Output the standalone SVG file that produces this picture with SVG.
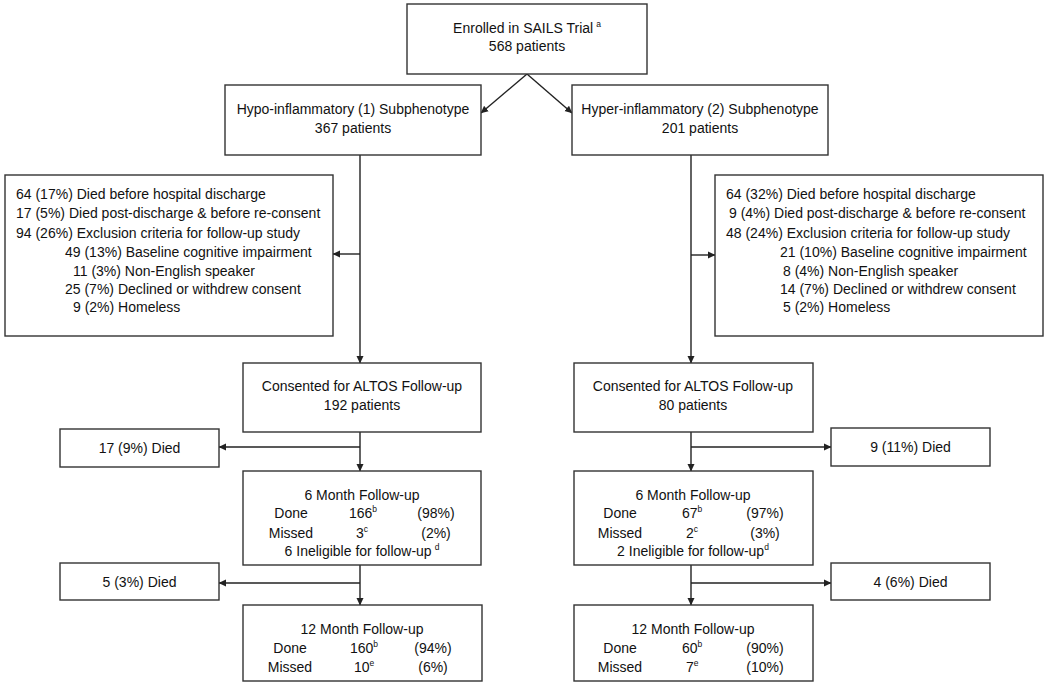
<svg xmlns="http://www.w3.org/2000/svg" width="1050" height="687" viewBox="0 0 1050 687">
<defs>
<marker id="arr" markerWidth="8" markerHeight="8" refX="7" refY="4" orient="auto" markerUnits="userSpaceOnUse">
<path d="M0,0.5 L7.5,4 L0,7.5 Z" fill="#222"/>
</marker>
<style>
rect{fill:#fff;stroke:#333;stroke-width:1.4}
text{font-family:"Liberation Sans",Arial,sans-serif;font-size:14px;fill:#111}
.c{text-anchor:middle}
.sup{font-size:8.5px}
#connectors line{stroke:#222;stroke-width:1.4;marker-end:url(#arr)}
#connectors .n{marker-end:none}
</style>
</defs>
<rect x="0" y="0" width="1050" height="687" style="fill:#fff;stroke:none"/>
<g id="connectors">
<line x1="527" y1="74" x2="481" y2="113"/>
<line x1="527" y1="74" x2="572" y2="113"/>
<line x1="360" y1="155" x2="360" y2="363"/>
<line x1="360" y1="254" x2="333" y2="254"/>
<line x1="691" y1="155" x2="691" y2="363"/>
<line x1="691" y1="255" x2="715" y2="255"/>
<line x1="360" y1="432" x2="360" y2="471"/>
<line x1="360" y1="447" x2="219" y2="447"/>
<line x1="691" y1="432" x2="691" y2="471"/>
<line x1="691" y1="447" x2="831" y2="447"/>
<line x1="360" y1="565" x2="360" y2="605"/>
<line x1="360" y1="583" x2="219" y2="583"/>
<line x1="691" y1="565" x2="691" y2="605"/>
<line x1="691" y1="583" x2="831" y2="583"/>
</g>
<g id="enrolled">
<rect x="407" y="4" width="240" height="70"/>
<text class="c" x="527" y="33">Enrolled in SAILS Trial<tspan class="sup" dx="3" dy="-6">a</tspan></text>
<text class="c" x="527" y="51">568 patients</text>
</g>
<g id="hypo">
<rect x="225" y="85" width="256" height="70"/>
<text class="c" x="353" y="114">Hypo-inflammatory (1) Subphenotype</text>
<text class="c" x="353" y="133">367 patients</text>
</g>
<g id="hyper">
<rect x="572" y="85" width="256" height="70"/>
<text class="c" x="700" y="114">Hyper-inflammatory (2) Subphenotype</text>
<text class="c" x="700" y="133">201 patients</text>
</g>
<g id="excl-left">
<rect x="5" y="175" width="328" height="161"/>
<text x="16" y="199">64 (17%) Died before hospital discharge</text>
<text x="16" y="218">17 (5%) Died post-discharge &amp; before re-consent</text>
<text x="16" y="238">94 (26%) Exclusion criteria for follow-up study</text>
<text x="65" y="257">49 (13%) Baseline cognitive impairment</text>
<text x="73" y="276">11 (3%) Non-English speaker</text>
<text x="65" y="294">25 (7%) Declined or withdrew consent</text>
<text x="73" y="312">9 (2%) Homeless</text>
</g>
<g id="excl-right">
<rect x="715" y="175" width="328" height="161"/>
<text x="726" y="199">64 (32%) Died before hospital discharge</text>
<text x="729" y="218">9 (4%) Died post-discharge &amp; before re-consent</text>
<text x="726" y="238">48 (24%) Exclusion criteria for follow-up study</text>
<text x="780" y="257">21 (10%) Baseline cognitive impairment</text>
<text x="783" y="276">8 (4%) Non-English speaker</text>
<text x="780" y="294">14 (7%) Declined or withdrew consent</text>
<text x="783" y="312">5 (2%) Homeless</text>
</g>
<g id="consent-left">
<rect x="243" y="363" width="238" height="69"/>
<text class="c" x="362" y="391">Consented for ALTOS Follow-up</text>
<text class="c" x="362" y="410">192 patients</text>
</g>
<g id="consent-right">
<rect x="574" y="363" width="239" height="69"/>
<text class="c" x="693" y="391">Consented for ALTOS Follow-up</text>
<text class="c" x="693" y="410">80 patients</text>
</g>
<g id="died1-left">
<rect x="60" y="429" width="159" height="38"/>
<text class="c" x="139.5" y="453">17 (9%) Died</text>
</g>
<g id="died1-right">
<rect x="831" y="428" width="159" height="38"/>
<text class="c" x="910.5" y="452">9 (11%) Died</text>
</g>
<g id="m6-left">
<rect x="243" y="471" width="238" height="94"/>
<text class="c" x="362" y="500">6 Month Follow-up</text>
<text class="c" x="291" y="518">Done</text>
<text x="349" y="518">166<tspan class="sup" dy="-6">b</tspan></text>
<text class="c" x="436" y="518">(98%)</text>
<text class="c" x="291" y="538">Missed</text>
<text x="356" y="538">3<tspan class="sup" dy="-6">c</tspan></text>
<text class="c" x="436" y="538">(2%)</text>
<text class="c" x="362" y="556">6 Ineligible for follow-up<tspan class="sup" dx="3" dy="-6">d</tspan></text>
</g>
<g id="m6-right">
<rect x="574" y="471" width="239" height="94"/>
<text class="c" x="693" y="500">6 Month Follow-up</text>
<text class="c" x="620" y="518">Done</text>
<text x="682" y="518">67<tspan class="sup" dy="-6">b</tspan></text>
<text class="c" x="765" y="518">(97%)</text>
<text class="c" x="620" y="538">Missed</text>
<text x="686" y="538">2<tspan class="sup" dy="-6">c</tspan></text>
<text class="c" x="765" y="538">(3%)</text>
<text class="c" x="693" y="556">2 Ineligible for follow-up<tspan class="sup" dy="-6">d</tspan></text>
</g>
<g id="died2-left">
<rect x="60" y="563" width="159" height="37"/>
<text class="c" x="139.5" y="587">5 (3%) Died</text>
</g>
<g id="died2-right">
<rect x="831" y="563" width="159" height="37"/>
<text class="c" x="910.5" y="587">4 (6%) Died</text>
</g>
<g id="m12-left">
<rect x="243" y="605" width="239" height="76"/>
<text class="c" x="362" y="634">12 Month Follow-up</text>
<text class="c" x="290" y="653">Done</text>
<text x="350" y="653">160<tspan class="sup" dy="-6">b</tspan></text>
<text class="c" x="433" y="653">(94%)</text>
<text class="c" x="290" y="672">Missed</text>
<text x="354" y="672">10<tspan class="sup" dy="-6">e</tspan></text>
<text class="c" x="433" y="672">(6%)</text>
</g>
<g id="m12-right">
<rect x="574" y="605" width="239" height="76"/>
<text class="c" x="693" y="634">12 Month Follow-up</text>
<text class="c" x="620" y="653">Done</text>
<text x="682" y="653">60<tspan class="sup" dy="-6">b</tspan></text>
<text class="c" x="765" y="653">(90%)</text>
<text class="c" x="620" y="672">Missed</text>
<text x="686" y="672">7<tspan class="sup" dy="-6">e</tspan></text>
<text class="c" x="765" y="672">(10%)</text>
</g>
</svg>
